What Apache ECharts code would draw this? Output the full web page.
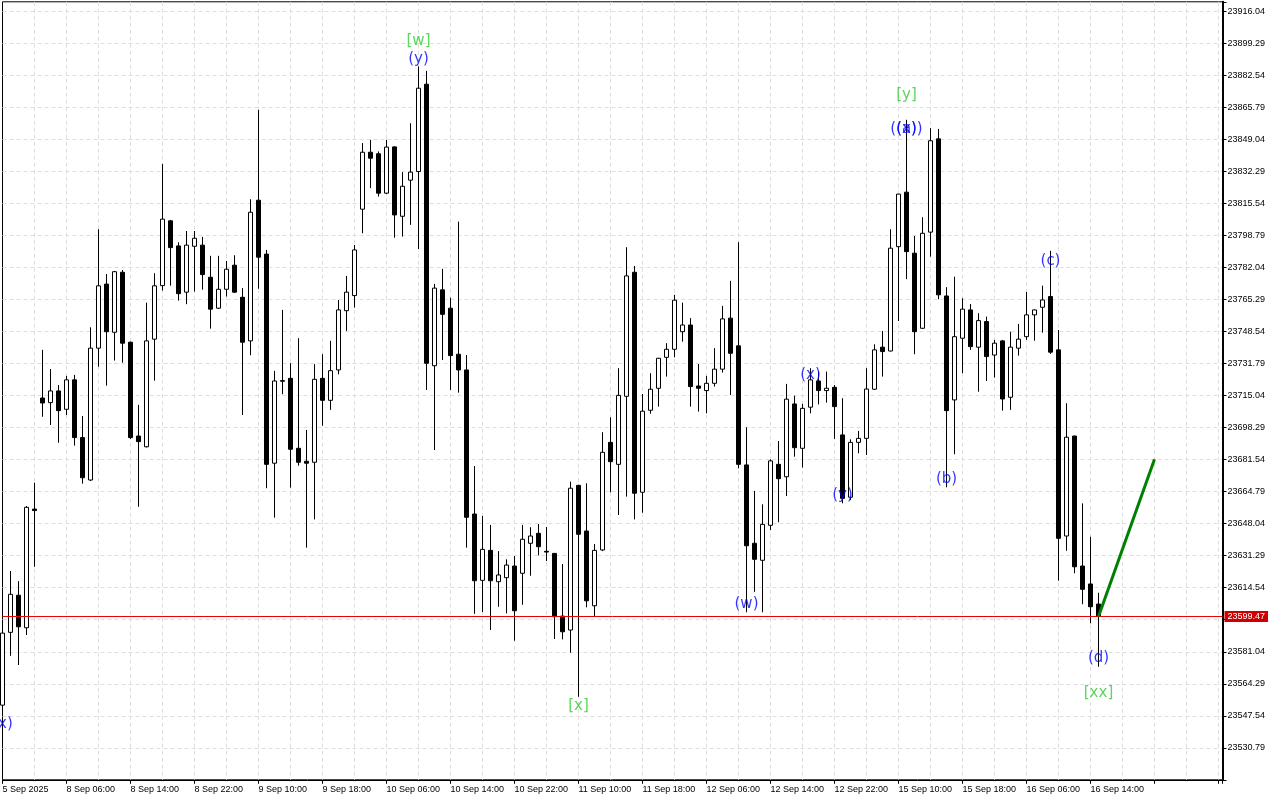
<!DOCTYPE html>
<html>
<head>
<meta charset="utf-8">
<script src="https://cdn.jsdelivr.net/npm/echarts@6/dist/echarts.min.js"></script>
<style>html,body{margin:0;padding:0;background:#fff}#c{width:1280px;height:800px}</style>
</head>
<body>
<div id="c"></div>
<script>
// ---- data (H1 bars) ----
const opens = [23553.1,23591.2,23610.6,23593.6,23655.7,23713.8,23711.4,23717.5,23707.9,23723.3,
23693.1,23670.9,23739.9,23773.4,23748.2,23779.6,23743.0,23693.9,23688.3,23744.6,
23772.6,23806.5,23793.4,23769.2,23793.2,23793.8,23777.0,23760.8,23770.7,23783.3,
23766.5,23743.7,23817.3,23789.1,23679.7,23722.9,23724.1,23687.5,23680.7,23680.2,
23724.1,23712.6,23728.5,23759.5,23767.4,23812.6,23842.4,23841.6,23821.0,23845.2,
23808.9,23827.8,23832.3,23878.0,23730.7,23770.4,23760.8,23736.7,23728.5,23653.1,
23618.4,23634.1,23617.7,23619.8,23625.9,23622.1,23637.8,23643.0,23633.6,23632.5,
23599.7,23592.4,23668.1,23644.2,23605.1,23634.3,23690.6,23679.1,23714.7,23779.6,
23664.5,23707.4,23718.9,23735.1,23739.3,23748.5,23752.0,23720.1,23717.7,23721.5,
23728.9,23755.6,23741.1,23678.8,23637.8,23628.9,23647.2,23679.1,23672.6,23710.7,
23687.5,23709.0,23722.7,23717.7,23719.4,23694.5,23661.9,23690.6,23692.7,23718.4,
23740.4,23738.4,23793.0,23821.5,23789.6,23750.3,23800.6,23849.4,23767.2,23712.8,
23745.1,23759.9,23740.4,23753.8,23736.3,23743.7,23714.2,23739.9,23745.9,23757.3,
23761.3,23766.9,23739.0,23641.6,23693.9,23625.9,23616.5,23606.0];
const closes = [23590.8,23611.1,23594.1,23656.6,23654.9,23711.2,23717.5,23707.2,23723.3,23693.1,
23672.1,23739.9,23772.5,23748.5,23779.9,23742.5,23693.1,23691.0,23743.7,23772.5,
23807.4,23792.5,23768.4,23793.8,23797.4,23778.4,23760.3,23770.7,23781.2,23769.2,
23743.0,23811.0,23787.5,23679.1,23722.7,23722.6,23687.0,23680.2,23679.7,23723.6,
23712.6,23728.1,23759.9,23769.2,23791.3,23842.4,23839.3,23821.0,23845.1,23809.6,
23824.6,23832.0,23875.9,23732.0,23771.3,23757.6,23736.0,23728.5,23651.4,23618.2,
23634.6,23618.2,23621.2,23626.4,23602.5,23639.9,23641.6,23636.0,23633.2,23599.4,
23591.5,23666.6,23642.5,23607.7,23634.1,23685.4,23680.5,23715.2,23777.7,23664.0,
23706.9,23718.4,23734.6,23739.3,23765.0,23752.0,23719.8,23718.9,23721.5,23728.9,
23755.2,23737.2,23679.1,23636.5,23629.4,23647.7,23680.9,23671.6,23713.2,23687.8,
23708.4,23723.3,23717.7,23718.9,23709.3,23661.3,23690.6,23692.7,23718.5,23739.0,
23738.1,23792.2,23820.5,23790.4,23748.5,23800.0,23848.4,23767.8,23707.2,23745.9,
23760.3,23740.7,23754.3,23735.5,23742.5,23713.3,23740.4,23744.6,23757.3,23759.9,
23765.1,23737.8,23640.4,23693.3,23625.5,23613.7,23604.6,23599.47];
const lows = [23550.5,23578.9,23574.1,23589.8,23625.5,23704.0,23699.7,23690.4,23704.9,23688.9,
23669.0,23670.4,23730.2,23720.3,23733.4,23732.3,23692.4,23656.9,23687.9,23722.9,
23770.0,23772.6,23764.8,23762.9,23769.5,23770.5,23750.1,23760.4,23766.9,23768.8,
23704.9,23736.2,23771.0,23666.6,23651.2,23715.8,23666.9,23678.4,23635.5,23650.3,
23699.3,23707.6,23726.2,23748.9,23761.1,23800.0,23823.6,23819.2,23820.5,23797.7,
23798.3,23804.4,23791.8,23718.0,23686.6,23733.7,23718.0,23716.6,23635.5,23600.9,
23601.8,23592.4,23604.6,23601.1,23586.8,23605.6,23620.8,23631.5,23628.5,23587.7,
23587.5,23580.5,23557.5,23604.3,23599.4,23633.7,23664.5,23652.6,23662.2,23650.3,
23653.8,23705.6,23709.3,23725.0,23735.1,23743.3,23709.3,23706.7,23705.8,23719.8,
23727.1,23715.4,23677.0,23601.7,23612.4,23601.7,23644.7,23648.8,23662.5,23683.1,
23677.4,23705.8,23710.5,23711.4,23692.4,23658.7,23660.4,23684.9,23684.0,23718.0,
23725.0,23738.2,23754.1,23776.0,23736.7,23750.0,23787.8,23765.5,23667.1,23684.4,
23726.8,23739.0,23717.1,23722.7,23724.5,23707.2,23707.6,23736.0,23744.2,23743.8,
23748.0,23736.9,23618.2,23633.9,23622.1,23605.9,23595.9,23573.2];
const highs = [23593.4,23623.3,23618.0,23657.3,23669.5,23739.0,23729.0,23720.6,23725.4,23725.9,
23704.4,23750.8,23802.1,23778.7,23780.3,23780.8,23743.3,23710.2,23763.7,23779.1,
23836.3,23807.0,23795.3,23801.2,23801.2,23798.1,23788.2,23788.2,23785.5,23788.5,
23771.3,23817.8,23864.6,23791.3,23728.0,23759.9,23732.0,23745.1,23697.1,23731.5,
23736.7,23743.7,23765.1,23777.7,23793.9,23847.2,23848.9,23842.8,23848.9,23845.5,
23832.0,23857.6,23887.3,23885.0,23773.5,23781.4,23766.3,23806.1,23736.3,23678.2,
23652.1,23647.4,23633.7,23629.4,23631.1,23647.4,23646.2,23647.9,23646.3,23632.7,
23626.9,23670.0,23668.4,23669.2,23637.4,23695.9,23703.7,23729.4,23792.7,23782.9,
23715.9,23726.8,23734.8,23742.5,23767.8,23763.7,23755.6,23731.6,23725.4,23739.9,
23762.0,23775.1,23795.3,23698.5,23665.2,23658.2,23681.7,23691.3,23721.2,23715.0,
23710.7,23729.4,23727.6,23727.6,23720.6,23713.7,23692.2,23696.6,23729.4,23741.9,
23748.9,23802.1,23820.6,23859.4,23798.6,23808.4,23855.0,23854.6,23771.8,23777.3,
23766.0,23763.0,23758.2,23756.4,23744.2,23744.2,23748.5,23752.6,23769.3,23760.1,
23772.6,23790.8,23749.4,23711.1,23694.1,23658.7,23641.2,23611.9];

// time-axis labels, one for every 8th bar
const timeLabels = ['5 Sep 2025','8 Sep 06:00','8 Sep 14:00','8 Sep 22:00','9 Sep 10:00','9 Sep 18:00',
'10 Sep 06:00','10 Sep 14:00','10 Sep 22:00','11 Sep 10:00','11 Sep 18:00','12 Sep 06:00',
'12 Sep 14:00','12 Sep 22:00','15 Sep 10:00','15 Sep 18:00','16 Sep 06:00','16 Sep 14:00'];
// price-axis tick labels
const priceLabels = ['23530.79','23547.54','23564.29','23581.04','23597.79','23614.54','23631.29',
'23648.04','23664.79','23681.54','23698.29','23715.04','23731.79','23748.54','23765.29','23782.04',
'23798.79','23815.54','23832.29','23849.04','23865.79','23882.54','23899.29','23916.04'];
const priceBase = 23514.04;
const priceStep = 16.75;
const priceTop = 23921.12;
const lastPrice = 23599.47;

// wave labels: [bar, price, text]
const blueLabels = [[0,23543.2,'(x)'],[52,23891.3,'(y)'],[93,23606.0,'(w)'],[101,23725.6,'(x)'],
[105,23663.1,'(y)'],[113,23854.4,'((x))'],[113,23854.4,'(a)'],[118,23671.2,'(b)'],
[131,23785.5,'(c)'],[137,23577.7,'(d)']];
const greenLabels = [[52,23900.4,'[w]'],[72,23552.6,'[x]'],[113,23872.4,'[y]'],[137,23559.4,'[xx]']];
// projection line
const projection = [[137,23599.47],[144,23681.8]];

// ---- chart ----
const barsVisible = 152.5;
const chart = echarts.init(document.getElementById('c'), null, {renderer:'canvas'});
const candleData = opens.map((o,i)=>[i, o-priceBase, closes[i]-priceBase, lows[i]-priceBase, highs[i]-priceBase]);
const mkLabels = (arr)=>arr.map(d=>({name:d[2], value:[d[0], d[1]-priceBase]}));
const axisFont = {fontFamily:'"Liberation Sans", Arial, sans-serif', fontSize:9, color:'#000'};
const waveFont = '"DejaVu Sans", Verdana, sans-serif';
const gridLine = {show:true, showMinLine:false, showMaxLine:false, lineStyle:{color:'#dedede', type:[4,3], width:1}};

chart.setOption({
  animation:false,
  backgroundColor:'#fff',
  grid:{left:2.5, top:1.8, right:57.5, bottom:20.2, show:true, borderColor:'#000', borderWidth:1,
        containLabel:false, outerBoundsMode:'none'},
  xAxis:[
    {type:'value', min:0, max:barsVisible, interval:4, position:'bottom',
     axisLine:{show:false}, axisTick:{show:false}, axisLabel:{show:false},
     splitLine:gridLine},
    {type:'value', min:0, max:barsVisible, interval:8, position:'bottom',
     axisLine:{show:true, onZero:false, lineStyle:{color:'#000', width:1}},
     axisTick:{show:true, length:4, lineStyle:{color:'#000'}},
     splitLine:{show:false},
     axisLabel:Object.assign({show:true, align:'left', margin:5, showMinLabel:true, showMaxLabel:true,
       formatter:(v)=>{const k=Math.round(v/8); return (Math.abs(v-k*8)<1e-6 && k<timeLabels.length)?timeLabels[k]:'';}}, axisFont)}
  ],
  yAxis:{type:'value', position:'right', min:0, max:priceTop-priceBase, interval:priceStep,
     axisLine:{show:true, onZero:false, lineStyle:{color:'#000', width:2}},
     axisTick:{show:true, length:4, lineStyle:{color:'#000'}},
     splitLine:gridLine,
     axisLabel:Object.assign({show:true, margin:5, align:'left', showMinLabel:true, showMaxLabel:true,
       formatter:(v)=>{const k=Math.round(v/priceStep); return (k>=1 && k<=priceLabels.length && Math.abs(v-k*priceStep)<0.01)?priceLabels[k-1]:'';}}, axisFont)},
  series:[
    {type:'candlestick', xAxisIndex:0, z:2, barWidth:4, large:false, silent:true,
     encode:{x:0, y:[1,2,3,4]},
     itemStyle:{color:'#ffffff', color0:'#000000', borderColor:'#000000', borderColor0:'#000000', borderColorDoji:'#000000', borderWidth:1},
     data:candleData},
    {type:'line', name:'bid', xAxisIndex:0, z:3, symbol:'none', silent:true, clip:false,
     lineStyle:{color:'#ee0000', width:1},
     itemStyle:{color:'#ee0000'},
     data:[[0, lastPrice-priceBase],[barsVisible, lastPrice-priceBase]],
     endLabel:{show:true, distance:2, formatter:lastPrice.toFixed(2),
              color:'#ffffff', backgroundColor:'#cc0000', padding:[1,3,1,3],
              fontFamily:'"Liberation Sans", Arial, sans-serif', fontSize:9}},
    {type:'line', xAxisIndex:0, z:4, symbol:'none', silent:true,
     lineStyle:{color:'#008000', width:3}, itemStyle:{color:'#008000'},
     data:projection.map(p=>[p[0], p[1]-priceBase])},
    {type:'scatter', xAxisIndex:0, z:5, symbolSize:1, itemStyle:{color:'rgba(0,0,0,0)'}, silent:true,
     data:mkLabels(blueLabels),
     label:{show:true, position:'inside', formatter:'{b}', color:'#0000ff', fontFamily:waveFont, fontSize:15},
     labelLayout:{hideOverlap:false}},
    {type:'scatter', xAxisIndex:0, z:5, symbolSize:1, itemStyle:{color:'rgba(0,0,0,0)'}, silent:true,
     data:mkLabels(greenLabels),
     label:{show:true, position:'inside', formatter:'{b}', color:'#33cc33', fontFamily:waveFont, fontSize:15},
     labelLayout:{hideOverlap:false}}
  ]
});
</script>
</body>
</html>
